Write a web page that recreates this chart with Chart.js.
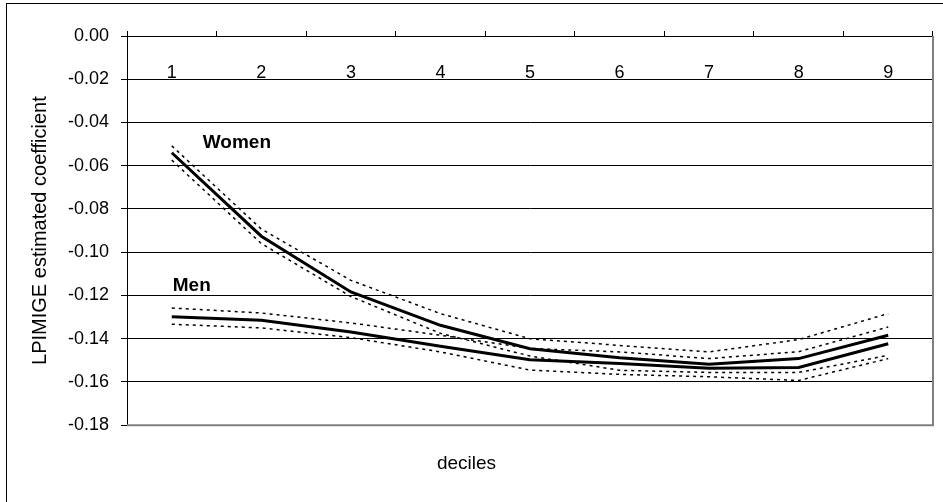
<!DOCTYPE html>
<html lang="en">

<head>
  <meta charset="UTF-8">
  <title>LPIMIGE estimated coefficient by decile</title>
  <style>
    html, body { margin: 0; padding: 0; background: #fff; overflow: hidden; }
    #wrap { position: relative; width: 943px; height: 502px; }
    #frame { position: absolute; left: 6px; top: 3px; width: 1000px; height: 1000px; border: 1px solid #000; }
  </style>
</head>

<body>
  <div id="wrap">
    <div id="frame"></div>
    <canvas id="chart"></canvas>
  </div>
  <script src="https://cdn.jsdelivr.net/npm/chart.js@4/dist/chart.umd.min.js"></script>
  <script>
    const deciles = ['1', '2', '3', '4', '5', '6', '7', '8', '9']

    const women = [-0.0540, -0.0926, -0.1184, -0.1338, -0.1446, -0.1488, -0.1518, -0.1492, -0.1384]
    const womenUpper = [-0.0508, -0.0893, -0.1130, -0.1284, -0.1400, -0.1431, -0.1461, -0.1404, -0.1284]
    const womenLower = [-0.0574, -0.0960, -0.1205, -0.1375, -0.1480, -0.1546, -0.1556, -0.1556, -0.1477]

    const men = [-0.1299, -0.1315, -0.1369, -0.1435, -0.1497, -0.1515, -0.1537, -0.1533, -0.1423]
    const menUpper = [-0.1258, -0.1281, -0.1327, -0.1384, -0.1445, -0.1461, -0.1492, -0.1460, -0.1346]
    const menLower = [-0.1333, -0.1350, -0.1395, -0.1461, -0.1545, -0.1565, -0.1576, -0.1593, -0.1492]

    const FONT = 'Liberation Sans, Arial, sans-serif'

    // solid line for the estimate, dotted for the bands
    const solid = (data) => ({ data, borderColor: '#000', borderWidth: 3, pointRadius: 0, tension: 0 })
    const dotted = (data) => ({ data, borderColor: '#000', borderWidth: 1.5, borderDash: [3, 4], pointRadius: 0, tension: 0 })

    // series names written next to the lines
    const seriesLabels = {
      id: 'seriesLabels',
      afterDatasetsDraw(chart) {
        const { ctx, scales: { x, y } } = chart
        ctx.save()
        ctx.font = 'bold 19px ' + FONT
        ctx.fillStyle = '#000'
        ctx.textBaseline = 'middle'
        ctx.fillText('Women', x.getPixelForValue(0) + 31, y.getPixelForValue(-0.0494))
        ctx.fillText('Men', x.getPixelForValue(0) + 1, y.getPixelForValue(-0.1153))
        ctx.restore()
      }
    }

    // grey right / bottom edge of the plot area
    const plotEdge = {
      id: 'plotEdge',
      afterDraw(chart) {
        const { ctx, chartArea: a } = chart
        ctx.save()
        ctx.strokeStyle = '#808080'
        ctx.lineWidth = 2
        ctx.beginPath()
        ctx.moveTo(a.right, a.top)
        ctx.lineTo(a.right, a.bottom)
        ctx.lineTo(a.left, a.bottom)
        ctx.stroke()
        ctx.restore()
      }
    }

    new Chart(document.getElementById('chart'), {
      type: 'line',
      data: {
        labels: deciles,
        datasets: [
          solid(women), dotted(womenUpper), dotted(womenLower),
          solid(men), dotted(menUpper), dotted(menLower)
        ]
      },
      options: {
        responsive: true,
        maintainAspectRatio: false,
        animation: false,
        layout: { padding: { top: 36, right: 10, bottom: 0, left: 0 } },
        plugins: {
          legend: { display: false },
          tooltip: { enabled: false },
          title: {
            display: true,
            text: 'deciles',
            position: 'bottom',
            color: '#000',
            font: { family: FONT, size: 19, weight: 'normal' },
            padding: { top: 27, bottom: 27 }
          }
        },
        scales: {
          x: {
            type: 'category',
            position: { y: 0 },
            offset: true,
            grid: { drawOnChartArea: false, drawTicks: true, tickLength: -6, color: '#000', offset: true },
            border: { display: true, color: '#000', width: 1 },
            ticks: { color: '#000', font: { family: FONT, size: 18 }, padding: 32, maxRotation: 0 }
          },
          y: {
            min: -0.18,
            max: 0,
            afterFit(scale) { scale.width = 127 },
            grid: { color: '#000', lineWidth: 1, tickLength: 6 },
            border: { display: true, color: '#000', width: 1 },
            ticks: {
              stepSize: 0.02,
              color: '#000',
              padding: 12,
              font: { family: FONT, size: 18 },
              callback: (v) => (Math.abs(v) < 1e-9 ? 0 : v).toFixed(2)
            },
            title: {
              display: true,
              text: 'LPIMIGE estimated coefficient',
              color: '#000',
              font: { family: FONT, size: 20 },
              padding: { top: 28, bottom: 0 }
            }
          }
        }
      },
      plugins: [seriesLabels, plotEdge]
    })
  </script>
</body>

</html>
